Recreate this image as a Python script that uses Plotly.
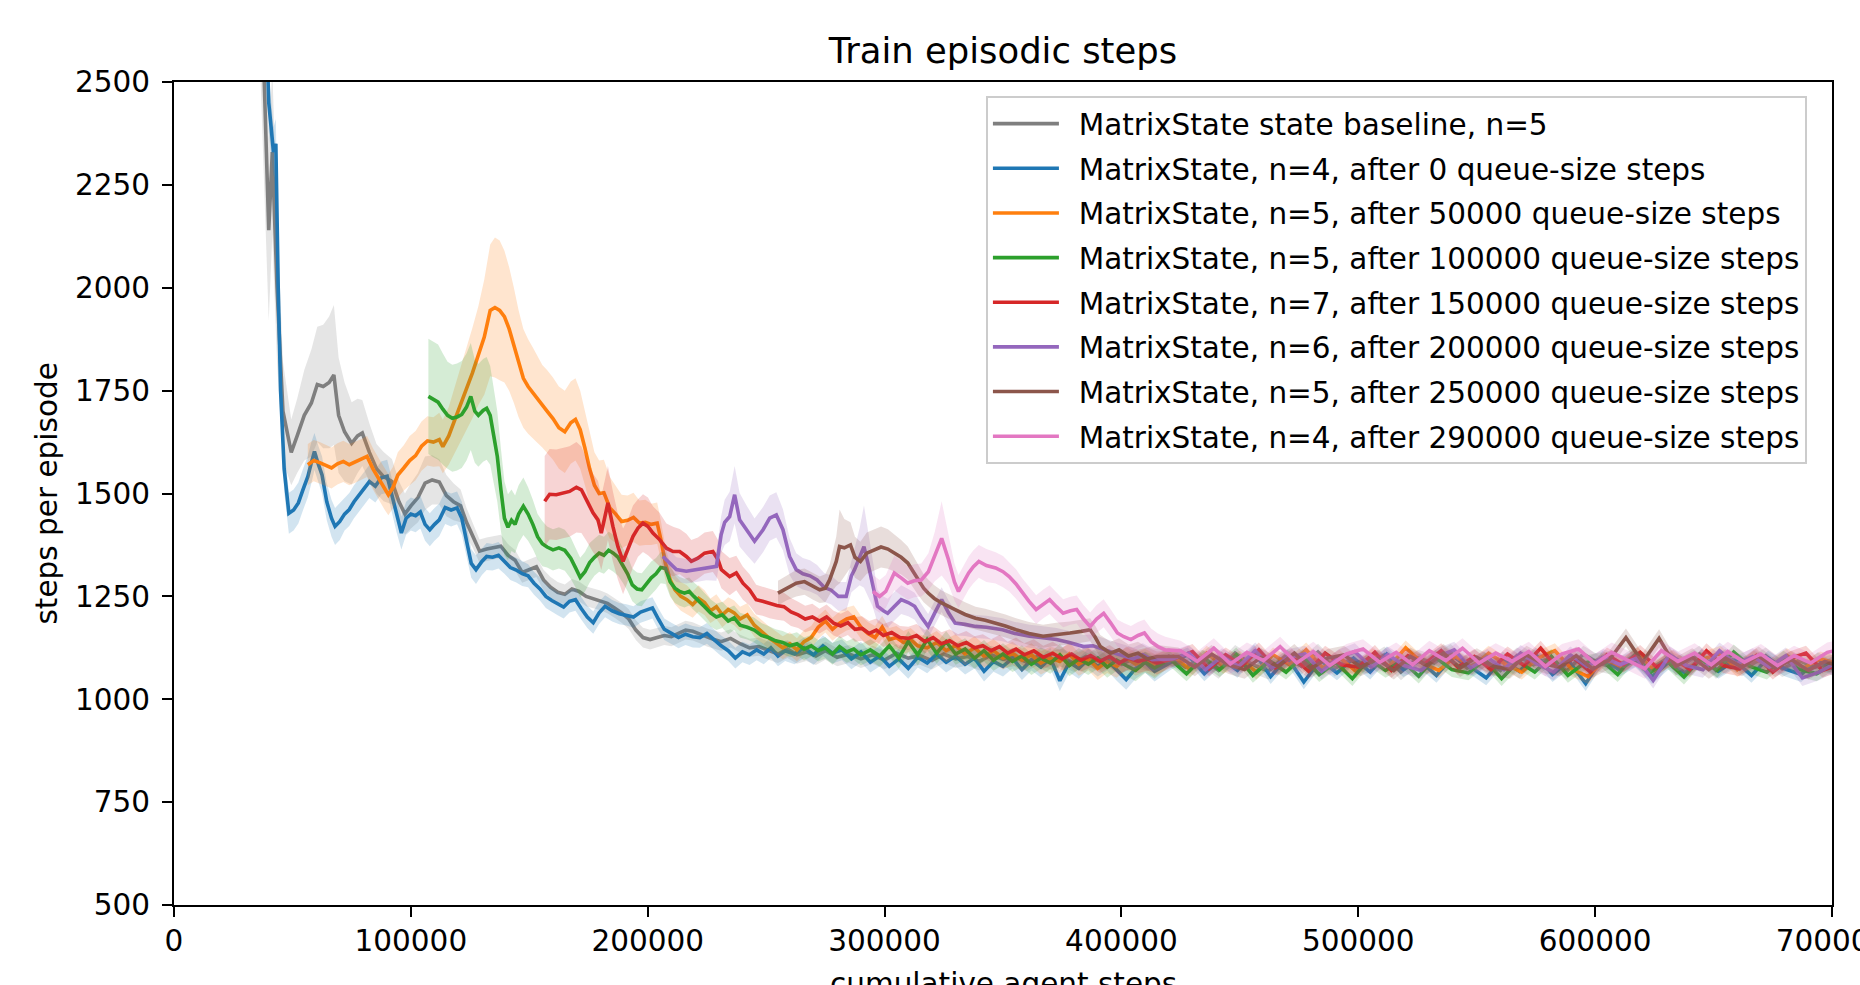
import plotly.graph_objects as go

# ---------------------------------------------------------------- data
TAIL_STEP = 7000

SERIES_NAMES = [
    "MatrixState state baseline, n=5",
    "MatrixState, n=4, after 0 queue-size steps",
    "MatrixState, n=5, after 50000 queue-size steps",
    "MatrixState, n=5, after 100000 queue-size steps",
    "MatrixState, n=7, after 150000 queue-size steps",
    "MatrixState, n=6, after 200000 queue-size steps",
    "MatrixState, n=5, after 250000 queue-size steps",
    "MatrixState, n=4, after 290000 queue-size steps",
]
SERIES_COLORS = ["#7f7f7f", "#1f77b4", "#ff7f0e", "#2ca02c",
                 "#d62728", "#9467bd", "#8c564b", "#e377c2"]

# --- gray: baseline
GRAY_X = [36000, 39000, 40000, 41500, 43500, 46000, 49500, 52000, 55000, 58000,
          60500, 63000, 65500, 67500, 69500, 72000, 75000, 77500, 79500, 82500,
          85500, 88500, 92000, 95000, 97500, 100000, 103000, 106000, 109000, 112000,
          115000, 118000, 121000, 123500, 126000, 129000, 132000, 135000, 138000, 141000,
          144000, 147000, 150000, 153000, 156000, 159000, 162000, 165000, 168000, 171000,
          174000, 177000, 180000, 183000, 186000, 189000, 192000, 195000, 198000, 201000,
          204000, 207000, 210000, 213000, 216000, 219000, 222000, 225000, 228000, 231000,
          235000, 239000, 243000, 247000, 251000, 255000, 259000, 263000, 267000, 271000,
          275000, 280000, 285000, 290000, 295000, 300000, 305000, 310000, 315000, 320000,
          325000, 330000, 335000, 340000, 345000, 350000, 355000, 360000, 365000, 370000,
          375000, 380000, 385000, 390000, 395000, 400000, 405000, 410000, 415000]
GRAY_Y = [2900, 2350, 2140, 2330, 2000, 1700, 1600, 1640, 1690, 1720,
          1765, 1760, 1770, 1788, 1690, 1650, 1622, 1640, 1647, 1600,
          1560, 1541, 1529, 1480, 1450, 1470, 1490, 1525, 1533, 1528,
          1495, 1480, 1470, 1430, 1400, 1360, 1365, 1368, 1372, 1350,
          1338, 1308, 1315, 1322, 1290, 1272, 1260, 1255, 1268, 1262,
          1250, 1245, 1240, 1233, 1222, 1210, 1195, 1168, 1150, 1145,
          1150, 1155, 1152, 1160, 1168, 1165, 1158, 1150, 1145, 1140,
          1148, 1135, 1125, 1128, 1118, 1110, 1122, 1108, 1115, 1105,
          1118, 1102, 1110, 1098, 1108, 1095, 1112, 1100, 1106, 1094,
          1110, 1098, 1104, 1092, 1108, 1097, 1103, 1090, 1106, 1095,
          1101, 1088, 1104, 1093, 1100, 1085, 1098, 1092, 1087]
GRAY_S = [300, 250, 220, 200, 180, 120, 80, 90, 110, 130,
          140, 150, 160, 170, 140, 120, 100, 90, 80, 70,
          60, 60, 55, 50, 50, 55, 60, 65, 60, 55,
          50, 45, 40, 35, 30, 28, 28, 28, 28, 27,
          25, 25, 25, 25, 25, 25, 25, 24, 24, 24,
          24, 24, 24, 24, 24, 24, 24, 24, 24, 24,
          23, 23, 23, 23, 23, 22, 22, 22, 22, 22,
          22, 22, 22, 22, 22, 22, 22, 22, 22, 22,
          22, 22, 22, 22, 22, 22, 22, 22, 22, 22,
          22, 22, 22, 22, 22, 22, 22, 22, 22, 22,
          22, 22, 22, 22, 22, 22, 22, 22, 22]
GRAY_TAIL_START = 420000
GRAY_TAIL_Y = [1105, 1078, 1100, 1070, 1112, 1085, 1068, 1104, 1080, 1115,
               1075, 1098, 1082, 1108, 1066, 1100, 1088, 1114, 1076, 1096,
               1070, 1106, 1084, 1100, 1068, 1110, 1086, 1078, 1104, 1072,
               1098, 1084, 1110, 1070, 1096, 1080, 1106, 1074, 1094, 1078, 1088]
GRAY_TAIL_S = 20

# --- blue: n=4, after 0
BLUE_X = [37000, 40000, 42000, 43000, 44000, 45000, 46500, 48500, 50500, 52500,
          54500, 56500, 58000, 59300, 61000, 62500, 64500, 66500, 68000, 70000,
          72000, 74000, 76000, 78000, 80000, 82500, 85000, 87500, 90000, 92000,
          94000, 96000, 98000, 100000, 102000, 104000, 106000, 108000, 110000, 112000,
          114500, 117000, 119500, 121500, 123500, 125500, 127500, 130000, 132000, 134500,
          137000, 139500, 142000, 144500, 147000, 149500, 152000, 154500, 157000, 159500,
          162000, 164500, 167000, 169500, 172000, 174500, 177000, 179500, 182000, 185000,
          188000, 191000, 194000, 197000, 200000, 202000, 204500, 207000, 210000, 213000,
          216000, 219000, 222000, 225000, 228000, 231000, 234000, 237000, 240000, 243000,
          246000, 249000, 252000, 255000, 258000, 262000, 266000, 270000, 274000, 278000,
          282000, 286000, 290000, 294000, 298000, 302000, 306000, 310000, 314000, 318000,
          322000, 326000, 330000, 334000, 338000, 342000, 346000, 350000, 354000, 358000,
          362000, 366000, 370000, 374000, 378000, 382000, 386000, 390000, 394000, 398000,
          402000, 406000, 410000, 414000]
BLUE_Y = [3000, 2450, 2330, 2350, 2000, 1750, 1560, 1452, 1460, 1477,
          1510, 1541, 1575, 1602, 1570, 1545, 1480, 1440, 1420, 1432,
          1450, 1461, 1480, 1495, 1510, 1529, 1518, 1538, 1542, 1495,
          1445, 1404, 1440, 1450, 1446, 1455, 1425, 1412, 1425, 1436,
          1466, 1460, 1465, 1440, 1385, 1330, 1315, 1335, 1347, 1345,
          1350, 1335, 1320, 1314, 1305, 1300, 1282, 1268, 1250, 1240,
          1232, 1224, 1238, 1242, 1220, 1200, 1186, 1210, 1226, 1215,
          1208, 1205, 1200, 1212, 1218, 1222, 1195, 1170, 1160, 1150,
          1158, 1152, 1150, 1160, 1145, 1130, 1118, 1100, 1115, 1108,
          1120, 1110, 1125, 1105, 1118, 1110, 1125, 1108, 1130, 1112,
          1120, 1098, 1115, 1090, 1105, 1080, 1098, 1075, 1102, 1088,
          1110, 1090, 1105, 1085, 1100, 1068, 1092, 1080, 1100, 1072,
          1095, 1078, 1100, 1045, 1090, 1075, 1098, 1080, 1095, 1070,
          1048, 1075, 1090, 1068]
BLUE_S = [80, 70, 60, 60, 60, 60, 55, 50, 50, 50,
          50, 50, 50, 45, 45, 45, 45, 45, 45, 45,
          40, 40, 40, 40, 40, 40, 40, 40, 40, 40,
          40, 40, 40, 40, 40, 40, 40, 40, 40, 40,
          40, 40, 40, 40, 38, 35, 35, 33, 33, 32,
          32, 30, 30, 30, 30, 28, 28, 28, 28, 28,
          28, 28, 27, 27, 27, 27, 27, 27, 27, 26,
          26, 26, 26, 26, 26, 26, 26, 26, 26, 26,
          26, 26, 25, 25, 25, 25, 25, 25, 25, 25,
          25, 25, 25, 25, 25, 25, 25, 25, 25, 25,
          25, 25, 25, 25, 25, 25, 25, 25, 25, 25,
          25, 25, 25, 25, 25, 25, 25, 25, 25, 25,
          25, 25, 25, 25, 25, 25, 25, 25, 25, 25,
          25, 25, 25, 25]
BLUE_TAIL_START = 421000
BLUE_TAIL_Y = [1090, 1108, 1062, 1098, 1070, 1115, 1055, 1102, 1042, 1095,
               1064, 1100, 1066, 1110, 1072, 1094, 1058, 1104, 1080, 1052,
               1098, 1068, 1108, 1060, 1092, 1038, 1100, 1072, 1096, 1055,
               1090, 1064, 1104, 1068, 1094, 1058, 1100, 1074, 1060, 1096, 1072]
BLUE_TAIL_S = 18

# --- orange: n=5, after 50000
ORANGE_X = [56500, 59000, 61500, 64000, 66500, 69000, 71500, 74000, 76500, 79000,
            81500, 84000, 86500, 89000, 90500, 92500, 94500, 97000, 99500, 102000,
            104500, 107000, 109500, 112000, 113500, 116000, 118500, 121000, 123500, 126000,
            128500, 131000, 133500, 135500, 137500, 139500, 141500, 143500, 145500, 147500,
            149500, 151500, 153500, 155500, 157500, 160000, 162500, 165000, 167500, 169500,
            171500, 173500, 175500, 177500, 179500, 181500, 184000, 186500, 189000, 191500,
            194000, 196500, 199000, 201500, 204000, 205500, 207500, 209500, 211500, 214000,
            216500, 219000, 221500, 224000, 226500, 229000, 231500, 234000, 236500, 239000,
            242000, 245000, 248000, 251000, 254000, 257000, 260000, 263000, 266000, 269000,
            272000, 275000, 278000, 281000, 284000, 287000, 290000, 293000, 296000, 299000,
            302000, 305000, 308000, 311000, 314000, 318000, 322000, 326000, 330000, 334000,
            338000, 342000, 346000, 350000, 354000, 358000, 362000, 366000, 370000, 374000,
            378000, 382000, 386000, 390000, 394000, 398000, 402000, 406000, 410000, 414000]
ORANGE_Y = [1570, 1580, 1575, 1568, 1562, 1572, 1578, 1570, 1576, 1582,
            1590, 1560, 1535, 1510, 1497, 1515, 1545, 1562, 1580, 1592,
            1615, 1628, 1625, 1631, 1614, 1640, 1680, 1718, 1755, 1793,
            1835, 1880, 1945, 1952, 1945, 1930, 1900, 1860, 1815, 1780,
            1760, 1745, 1728, 1712, 1700, 1682, 1660, 1650, 1672, 1680,
            1655, 1610, 1560, 1520, 1500, 1502, 1465, 1450, 1432, 1435,
            1442, 1428, 1430, 1425, 1428, 1390, 1330, 1290, 1266, 1250,
            1242, 1230, 1245, 1235, 1215, 1225, 1205, 1218, 1210, 1195,
            1205, 1180, 1165, 1150, 1138, 1125, 1135, 1120, 1140, 1150,
            1175, 1190, 1170, 1185, 1195, 1200, 1175, 1160, 1150, 1175,
            1145, 1150, 1138, 1145, 1130, 1125, 1138, 1118, 1130, 1110,
            1125, 1105, 1118, 1100, 1112, 1095, 1108, 1088, 1100, 1092,
            1110, 1085, 1098, 1075, 1092, 1080, 1100, 1085, 1095, 1082]
ORANGE_S = [50, 50, 50, 50, 50, 50, 50, 50, 50, 50,
            50, 50, 50, 50, 50, 50, 55, 55, 60, 60,
            60, 60, 60, 65, 65, 70, 80, 90, 100, 110,
            120, 140, 160, 170, 170, 160, 150, 140, 130, 120,
            115, 110, 105, 100, 100, 100, 100, 100, 100, 100,
            95, 90, 85, 80, 80, 80, 75, 70, 65, 60,
            60, 55, 55, 50, 50, 45, 40, 38, 35, 35,
            35, 32, 32, 30, 30, 30, 30, 30, 30, 30,
            28, 28, 28, 28, 28, 28, 28, 28, 28, 28,
            28, 28, 28, 28, 28, 28, 28, 28, 28, 28,
            28, 28, 28, 28, 28, 28, 28, 28, 28, 28,
            28, 28, 28, 28, 28, 28, 28, 28, 28, 28,
            28, 28, 28, 28, 28, 28, 28, 28, 28, 28]
ORANGE_TAIL_START = 422000
ORANGE_TAIL_Y = [1104, 1072, 1112, 1080, 1100, 1066, 1108, 1084, 1120, 1076,
                 1102, 1068, 1106, 1080, 1125, 1088, 1070, 1104, 1078, 1112,
                 1086, 1066, 1100, 1118, 1074, 1055, 1098, 1080, 1108, 1070,
                 1102, 1076, 1098, 1112, 1072, 1100, 1080, 1106, 1076, 1098, 1088]
ORANGE_TAIL_S = 18

# --- green: n=5, after 100000
GREEN_X = [107400, 109500, 111500, 113500, 115500, 117500, 119500, 121500, 123500, 125300,
           127000, 128500, 130500, 132000, 133500, 135000, 136500, 138000, 139500, 141000,
           142500, 144000, 145500, 147500, 149500, 151500, 153500, 155500, 157500, 160000,
           162500, 165000, 167500, 169500, 171500, 173500, 175500, 177500, 179500, 181500,
           183500, 185500, 187500, 189500, 191500, 193500, 195500, 197500, 199500, 201500,
           203500, 205500, 207500, 209500, 211500, 213500, 215500, 217500, 219500, 221500,
           224000, 226500, 229000, 231500, 234000, 236500, 239000, 242000, 245000, 248000,
           251000, 254000, 257000, 260000, 263000, 266000, 269000, 272000, 275000, 278000,
           281000, 284000, 287000, 290000, 294000, 298000, 302000, 306000, 310000, 314000,
           318000, 322000, 326000, 330000, 334000, 338000, 342000, 346000, 350000, 354000,
           358000, 362000, 366000, 370000, 374000, 378000, 382000, 386000, 390000, 394000,
           398000, 402000, 406000, 410000, 414000]
GREEN_Y = [1736, 1728, 1722, 1705, 1690, 1683, 1686, 1692, 1710, 1736,
           1700, 1690, 1702, 1707, 1690, 1640, 1590, 1510, 1440, 1418,
           1435, 1425, 1450, 1469, 1450, 1425, 1395, 1378, 1370, 1363,
           1368, 1362, 1343, 1320, 1296, 1310, 1332, 1345, 1355, 1350,
           1362, 1355, 1345, 1325, 1305, 1278, 1268, 1266, 1282, 1295,
           1305, 1320, 1318, 1285, 1270, 1262, 1258, 1262, 1250, 1240,
           1225, 1210, 1200, 1205, 1190, 1198, 1180, 1175, 1168, 1155,
           1150, 1142, 1138, 1130, 1135, 1122, 1130, 1118, 1125, 1110,
           1128, 1115, 1122, 1108, 1120, 1105, 1130, 1100, 1140, 1108,
           1145, 1112, 1140, 1110, 1122, 1100, 1118, 1095, 1110, 1092,
           1105, 1085, 1100, 1088, 1108, 1082, 1098, 1085, 1100, 1078,
           1095, 1082, 1070, 1090, 1076]
GREEN_S = [140, 140, 140, 135, 130, 130, 130, 130, 130, 130,
           125, 125, 125, 125, 120, 115, 110, 100, 90, 80,
           75, 70, 70, 70, 65, 60, 55, 55, 50, 50,
           50, 50, 50, 48, 48, 48, 48, 45, 45, 45,
           45, 45, 45, 42, 42, 40, 40, 40, 40, 40,
           38, 38, 38, 36, 36, 35, 35, 34, 34, 34,
           33, 33, 32, 32, 32, 30, 30, 30, 30, 30,
           28, 28, 28, 28, 28, 28, 26, 26, 26, 26,
           26, 26, 26, 26, 26, 26, 26, 26, 26, 26,
           26, 26, 26, 26, 26, 26, 26, 26, 26, 26,
           26, 26, 26, 26, 26, 26, 26, 26, 26, 26,
           26, 26, 26, 26, 26]
GREEN_TAIL_START = 420500
GREEN_TAIL_Y = [1098, 1062, 1102, 1072, 1108, 1058, 1094, 1066, 1104, 1060,
                1090, 1050, 1098, 1070, 1094, 1056, 1102, 1072, 1064, 1096,
                1050, 1092, 1066, 1104, 1058, 1088, 1096, 1060, 1106, 1066,
                1092, 1054, 1098, 1070, 1115, 1080, 1066, 1100, 1072, 1062, 1088]
GREEN_TAIL_S = 18

# --- red: n=7, after 150000
RED_X = [156500, 158600, 161400, 164200, 167000, 169900, 172000, 174100, 176900, 179000,
         180400, 181800, 183200, 185300, 187400, 189600, 191700, 193800, 195900, 198000,
         200100, 202200, 205000, 207900, 210700, 213500, 216300, 218400, 221200, 224000,
         227500, 229700, 231100, 234600, 237400, 240200, 243000, 245800, 248500, 251500,
         254500, 257500, 260500, 263500, 266500, 269500, 272500, 275500, 278500, 281500,
         284500, 287500, 290500, 293500, 296500, 299500, 303000, 306500, 310000, 313500,
         317000, 320500, 324000, 327500, 331000, 334500, 338000, 341500, 345000, 348500,
         352000, 355500, 359000, 363000, 367000, 371000, 375000, 379000, 383000, 387000,
         391000, 395000, 399000, 403000, 407000, 411000, 415000]
RED_Y = [1481, 1498, 1497, 1501, 1505, 1515, 1509, 1485, 1453, 1436,
         1404, 1440, 1477, 1420, 1371, 1335, 1363, 1396, 1416, 1428,
         1420, 1404, 1388, 1367, 1359, 1359, 1347, 1335, 1343, 1355,
         1359, 1339, 1315, 1298, 1307, 1282, 1266, 1242, 1238, 1232,
         1228, 1225, 1212, 1205, 1195, 1200, 1190, 1200, 1185, 1178,
         1186, 1170, 1172, 1160, 1168, 1155, 1162, 1150, 1148, 1155,
         1140, 1150, 1135, 1142, 1130, 1138, 1125, 1130, 1118, 1128,
         1112, 1122, 1108, 1118, 1102, 1112, 1098, 1110, 1095, 1106,
         1092, 1104, 1088, 1100, 1092, 1098, 1088]
RED_S = [110, 110, 110, 110, 110, 110, 105, 100, 95, 95,
         90, 90, 90, 85, 80, 80, 75, 75, 70, 70,
         70, 65, 65, 60, 60, 55, 55, 52, 50, 50,
         50, 48, 45, 45, 42, 40, 38, 36, 35, 35,
         35, 34, 34, 32, 32, 32, 30, 30, 30, 30,
         30, 30, 30, 30, 28, 28, 28, 28, 28, 28,
         28, 28, 28, 28, 28, 28, 28, 28, 28, 28,
         28, 28, 28, 28, 28, 28, 28, 28, 28, 28,
         28, 28, 28, 28, 28, 28, 28]
RED_TAIL_START = 423000
RED_TAIL_Y = [1100, 1116, 1074, 1108, 1082, 1120, 1076, 1104, 1068, 1112,
              1084, 1078, 1114, 1070, 1106, 1086, 1118, 1078, 1104, 1072,
              1110, 1082, 1124, 1076, 1100, 1066, 1108, 1084, 1114, 1078,
              1102, 1072, 1118, 1082, 1074, 1106, 1066, 1098, 1112, 1070, 1084]
RED_TAIL_S = 18

# --- purple: n=6, after 200000
PURPLE_X = [206400, 209300, 212100, 216300, 220500, 224700, 229000, 231000, 232500, 234600,
            236700, 238800, 241600, 245100, 248700, 251500, 254300, 257100, 259900, 262700,
            265500, 268500, 271500, 274500, 277500, 280500, 283800, 286000, 287300, 289500,
            291300, 293000, 295000, 297000, 299500, 301300, 304000, 307000, 310000, 312700,
            315500, 318400, 321200, 324100, 327000, 329800, 334000, 338400, 343000, 349800,
            355000, 361200, 366000, 372600, 378000, 384000, 388000, 392500, 397000, 401000,
            405000, 409000, 413000]
PURPLE_Y = [1347, 1331, 1315, 1311, 1315, 1319, 1323, 1400, 1430, 1444,
            1497, 1436, 1412, 1384, 1412, 1440, 1448, 1412, 1347, 1315,
            1305, 1300, 1290, 1272, 1265, 1250, 1250, 1300, 1315, 1347,
            1371, 1330, 1280, 1226, 1215, 1209, 1225, 1242, 1235, 1226,
            1200, 1177, 1210, 1242, 1210, 1185, 1182, 1177, 1175, 1169,
            1160, 1153, 1150, 1145, 1138, 1128, 1130, 1120, 1112, 1105,
            1098, 1108, 1096]
PURPLE_S = [30, 30, 30, 30, 30, 30, 35, 45, 55, 60,
            70, 65, 60, 55, 55, 55, 55, 50, 45, 40,
            38, 38, 36, 35, 35, 35, 35, 40, 50, 70,
            100, 80, 55, 40, 35, 35, 35, 35, 33, 33,
            32, 30, 30, 30, 30, 30, 28, 28, 28, 28,
            28, 28, 28, 28, 28, 28, 28, 28, 28, 28,
            28, 28, 28]
PURPLE_TAIL_START = 421500
PURPLE_TAIL_Y = [1098, 1112, 1072, 1104, 1080, 1118, 1076, 1102, 1110, 1068,
                 1100, 1116, 1078, 1108, 1082, 1070, 1104, 1120, 1076, 1102,
                 1072, 1112, 1086, 1066, 1108, 1080, 1102, 1084, 1100, 1046,
                 1108, 1082, 1072, 1118, 1086, 1104, 1078, 1106, 1052, 1066, 1088]
PURPLE_TAIL_S = 20

# --- brown: n=5, after 250000
BROWN_X = [255000, 258500, 262700, 266200, 269800, 272600, 275000, 276800, 279600, 281000,
           283000, 285600, 287500, 289800, 292500, 295600, 298500, 301400, 304200, 307000,
           309800, 312000, 314100, 316500, 318400, 321000, 324100, 327000, 329800, 334000,
           338400, 342500, 346900, 351000, 355500, 361000, 366900, 372500, 378300, 383000,
           386800, 389000, 391100, 395400, 399000, 403000, 407000, 411000, 415000]
BROWN_Y = [1258, 1270, 1282, 1286, 1274, 1266, 1270, 1290, 1335, 1371,
           1368, 1375, 1345, 1335, 1355, 1363, 1370, 1365, 1355, 1345,
           1331, 1310, 1290, 1270, 1258, 1245, 1234, 1225, 1218, 1206,
           1197, 1192, 1185, 1178, 1169, 1160, 1153, 1158, 1161, 1165,
           1169, 1150, 1128, 1112, 1120, 1105, 1112, 1098, 1104]
BROWN_S = [30, 30, 32, 32, 32, 32, 34, 36, 60, 90,
           70, 55, 50, 48, 50, 50, 50, 48, 45, 42,
           40, 38, 36, 34, 33, 32, 30, 30, 30, 30,
           28, 28, 28, 28, 28, 28, 28, 28, 28, 28,
           28, 28, 28, 28, 28, 28, 28, 28, 28]
BROWN_TAIL_START = 424000
BROWN_TAIL_Y = [1104, 1078, 1110, 1084, 1072, 1102, 1080, 1112, 1074, 1100,
                1108, 1078, 1098, 1070, 1104, 1082, 1112, 1076, 1102, 1080,
                1072, 1108, 1086, 1078, 1106, 1074, 1096, 1150, 1090, 1148,
                1080, 1102, 1072, 1100, 1078, 1106, 1076, 1096, 1070, 1092, 1078]
BROWN_TAIL_S = 22

# --- pink: n=4, after 290000
PINK_X = [295100, 297900, 300500, 304100, 307000, 309800, 312500, 315500, 318500, 321200,
          324100, 327000, 329500, 331200, 333500, 335500, 337500, 339800, 343000, 346900,
          350000, 352600, 355500, 358300, 361000, 364000, 367000, 369700, 372500, 375400,
          378500, 381100, 384000, 386800, 389500, 392500, 395500, 398300, 401000, 404000,
          407000, 409700, 412500, 415400, 418500]
PINK_Y = [1262, 1250, 1262, 1307, 1295, 1282, 1288, 1290, 1310, 1347,
          1391, 1339, 1285, 1262, 1285, 1307, 1322, 1335, 1325, 1319,
          1310, 1298, 1280, 1258, 1238, 1218, 1232, 1242, 1225, 1209,
          1215, 1218, 1195, 1177, 1195, 1209, 1185, 1161, 1152, 1145,
          1155, 1161, 1140, 1128, 1120]
PINK_S = [40, 40, 40, 42, 42, 40, 40, 40, 45, 60,
          90, 60, 45, 40, 40, 40, 40, 40, 40, 38,
          38, 36, 36, 35, 35, 35, 35, 35, 35, 34,
          34, 34, 34, 34, 34, 34, 33, 33, 33, 33,
          33, 33, 32, 32, 32]
PINK_TAIL_START = 425000
PINK_TAIL_Y = [1118, 1092, 1124, 1086, 1114, 1094, 1128, 1088, 1116, 1082,
               1110, 1122, 1090, 1114, 1084, 1118, 1094, 1124, 1088, 1112,
               1092, 1116, 1080, 1110, 1122, 1086, 1114, 1094, 1074, 1118,
               1092, 1112, 1084, 1116, 1090, 1110, 1082, 1106, 1088, 1114, 1122]
PINK_TAIL_S = 24

X_TICKS = [0, 100000, 200000, 300000, 400000, 500000, 600000, 700000]
Y_TICKS = [500, 750, 1000, 1250, 1500, 1750, 2000, 2250, 2500]

SERIES = [
    (GRAY_X, GRAY_Y, GRAY_S, GRAY_TAIL_START, GRAY_TAIL_Y, GRAY_TAIL_S),
    (BLUE_X, BLUE_Y, BLUE_S, BLUE_TAIL_START, BLUE_TAIL_Y, BLUE_TAIL_S),
    (ORANGE_X, ORANGE_Y, ORANGE_S, ORANGE_TAIL_START, ORANGE_TAIL_Y, ORANGE_TAIL_S),
    (GREEN_X, GREEN_Y, GREEN_S, GREEN_TAIL_START, GREEN_TAIL_Y, GREEN_TAIL_S),
    (RED_X, RED_Y, RED_S, RED_TAIL_START, RED_TAIL_Y, RED_TAIL_S),
    (PURPLE_X, PURPLE_Y, PURPLE_S, PURPLE_TAIL_START, PURPLE_TAIL_Y, PURPLE_TAIL_S),
    (BROWN_X, BROWN_Y, BROWN_S, BROWN_TAIL_START, BROWN_TAIL_Y, BROWN_TAIL_S),
    (PINK_X, PINK_Y, PINK_S, PINK_TAIL_START, PINK_TAIL_Y, PINK_TAIL_S),
]

# ---------------------------------------------------------------- figure
FONT = "DejaVu Sans"
BASE = 29.5


def rgba(hex_color, a):
    h = hex_color.lstrip("#")
    return "rgba(%d,%d,%d,%s)" % (int(h[0:2], 16), int(h[2:4], 16), int(h[4:6], 16), a)


fig = go.Figure()

for i, (hx, hy, hs, t0, ty, ts) in enumerate(SERIES):
    triples = list(zip(hx, hy, hs))
    triples += [(t0 + TAIL_STEP * k, v, ts) for k, v in enumerate(ty)]
    xs = [t[0] for t in triples]
    ys = [t[1] for t in triples]
    up = [t[1] + t[2] for t in triples]
    lo = [t[1] - t[2] for t in triples]
    color = SERIES_COLORS[i]
    grp = "g%d" % i
    fig.add_trace(go.Scatter(
        x=xs + xs[::-1], y=up + lo[::-1], mode="lines", fill="toself",
        fillcolor=rgba(color, 0.2), line=dict(width=0), hoverinfo="skip",
        showlegend=False, legendgroup=grp))
    fig.add_trace(go.Scatter(
        x=xs, y=ys, mode="lines", name="\u2002" + SERIES_NAMES[i],
        line=dict(color=color, width=3.6), legendgroup=grp))

axis_common = dict(
    showline=True, mirror=True, linecolor="black", linewidth=2.2,
    ticks="outside", ticklen=10, tickwidth=2.2, tickcolor="black",
    showgrid=False, zeroline=False, automargin=False,
    tickfont=dict(family=FONT, size=BASE, color="black"),
    ticklabeloverflow="allow",
)

fig.update_layout(
    width=1860, height=985, autosize=False,
    margin=dict(l=174, r=28, t=82, b=80),
    paper_bgcolor="white", plot_bgcolor="white",
    font=dict(family=FONT, size=BASE, color="black"),
    title=dict(text="Train episodic steps", x=0.5, xref="paper", xanchor="center",
               y=1 - 51 / 985, yref="container", yanchor="middle",
               font=dict(family=FONT, size=35.4, color="black")),
    xaxis=dict(range=[0, 700000], tickmode="array", tickvals=X_TICKS,
               ticktext=[str(v) for v in X_TICKS], ticklabelstandoff=-2,
               **axis_common),
    yaxis=dict(range=[500, 2500], tickmode="array", tickvals=Y_TICKS,
               ticktext=[str(v) for v in Y_TICKS], ticklabelstandoff=6,
               **axis_common),
    legend=dict(x=0.4897, y=0.983, xanchor="left", yanchor="top",
                font=dict(family=FONT, size=BASE, color="black"),
                bgcolor="rgba(255,255,255,0.8)", bordercolor="#cccccc",
                borderwidth=2, tracegroupgap=3.3, itemwidth=66),
    annotations=[
        dict(text="steps per episode", xref="paper", yref="paper",
             x=-0.0766, y=0.5, xanchor="center", yanchor="middle",
             textangle=-90, showarrow=False,
             font=dict(family=FONT, size=BASE, color="black")),
        dict(text="cumulative agent steps", xref="paper", yref="paper",
             x=0.5, y=-0.0729, xanchor="center", yanchor="top",
             showarrow=False,
             font=dict(family=FONT, size=BASE, color="black")),
    ],
)

fig.write_html("out.html", config={"displayModeBar": False},
               post_script="document.body.style.margin='0';document.body.style.overflow='hidden';")
